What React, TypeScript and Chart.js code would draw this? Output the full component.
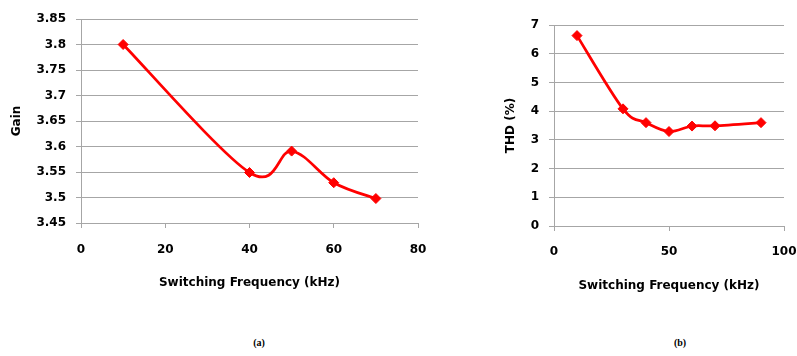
import React, { useEffect, useRef } from "react";
import { Chart, registerables } from "chart.js";

Chart.register(...registerables);

// ---- data (a) Gain ----
const gainFreq = [10, 40, 50, 60, 70];
const gainValues = [3.8, 3.549, 3.591, 3.529, 3.498];
const gainXTicks = [0, 20, 40, 60, 80];
const gainYTicks = [3.45, 3.5, 3.55, 3.6, 3.65, 3.7, 3.75, 3.8, 3.85];

// ---- data (b) THD ----
const thdFreq = [10, 30, 40, 50, 60, 70, 90];
const thdValues = [6.63, 4.08, 3.6, 3.29, 3.48, 3.49, 3.6];
const thdXTicks = [0, 50, 100];
const thdYTicks = [0, 1, 2, 3, 4, 5, 6, 7];

const xTitleText = "Switching Frequency (kHz)";
const FONT = "'DejaVu Sans', sans-serif";
const AXIS_GREY = "#a6a6a6";
const RED = "#ff0000";

// Draws the dataset as an Excel-style smoothed line (Catmull-Rom bezier),
// positioned through the chart's own scales.
const smoothLinePlugin = {
  id: "excelSmooth",
  beforeDatasetsDraw(chart: any) {
    const ctx = chart.ctx;
    const xs = chart.scales.x;
    const ys = chart.scales.y;
    chart.data.datasets.forEach((ds: any) => {
      const pts = ds.data.map((d: any) => ({ x: xs.getPixelForValue(d.x), y: ys.getPixelForValue(d.y) }));
      if (pts.length < 2) return;
      ctx.save();
      ctx.strokeStyle = ds.borderColor;
      ctx.lineWidth = ds.borderWidth;
      ctx.lineJoin = "round";
      ctx.lineCap = "round";
      ctx.beginPath();
      ctx.moveTo(pts[0].x, pts[0].y);
      for (let i = 0; i < pts.length - 1; i++) {
        const p0 = pts[i - 1] || pts[i];
        const p1 = pts[i];
        const p2 = pts[i + 1];
        const p3 = pts[i + 2] || pts[i + 1];
        const c1x = p1.x + (p2.x - p0.x) / 6;
        const c1y = p1.y + (p2.y - p0.y) / 6;
        const c2x = p2.x - (p3.x - p1.x) / 6;
        const c2y = p2.y - (p3.y - p1.y) / 6;
        ctx.bezierCurveTo(c1x, c1y, c2x, c2y, p2.x, p2.y);
      }
      ctx.stroke();
      ctx.restore();
    });
  },
};

type Props = {
  xs: number[];
  ys: number[];
  xTicks: number[];
  yTicks: number[];
  yTitle: string;
  left: number;
  width: number;
  height: number;
  yAxisWidth: number;
  xAxisHeight: number;
  padTop: number;
  padRight: number;
  yTitlePad: number;
  xTitlePad: number;
  xLabelPad: number;
  yLabelPad: number;
};

function LineChart(p: Props) {
  const ref = useRef<HTMLCanvasElement | null>(null);
  useEffect(() => {
    if (!ref.current) return;
    const data = p.xs.map((x, i) => ({ x, y: p.ys[i] }));
    const font = { family: FONT, size: 12, weight: "bold" as const };
    const chart = new Chart(ref.current, {
      type: "line",
      data: {
        datasets: [
          {
            data,
            showLine: false,
            borderColor: RED,
            backgroundColor: RED,
            borderWidth: 2.75,
            pointStyle: "rectRot",
            pointRadius: 5,
            pointBorderWidth: 1,
            pointBorderColor: RED,
            pointBackgroundColor: RED,
          },
        ],
      },
      plugins: [smoothLinePlugin],
      options: {
        animation: false,
        responsive: false,
        devicePixelRatio: 1,
        layout: { padding: { top: p.padTop, right: p.padRight, left: 0, bottom: 0 } },
        plugins: { legend: { display: false }, tooltip: { enabled: false } },
        scales: {
          x: {
            type: "linear",
            min: p.xTicks[0],
            max: p.xTicks[p.xTicks.length - 1],
            afterBuildTicks: (s: any) => {
              s.ticks = p.xTicks.map((v) => ({ value: v }));
            },
            afterFit: (s: any) => {
              s.height = p.xAxisHeight;
              s.paddingLeft = 0;
              s.paddingRight = 0;
            },
            grid: { drawOnChartArea: false, drawTicks: true, tickLength: 5, color: AXIS_GREY },
            border: { display: true, color: AXIS_GREY, width: 1 },
            ticks: {
              padding: p.xLabelPad,
              color: "#000",
              font,
              maxRotation: 0,
              callback: (v: any) => String(v),
            },
            title: {
              display: true,
              text: xTitleText,
              color: "#000",
              font,
              padding: { top: 0, bottom: p.xTitlePad },
            },
          },
          y: {
            type: "linear",
            min: p.yTicks[0],
            max: p.yTicks[p.yTicks.length - 1],
            afterBuildTicks: (s: any) => {
              s.ticks = p.yTicks.map((v) => ({ value: v }));
            },
            afterFit: (s: any) => {
              s.width = p.yAxisWidth;
            },
            grid: { drawOnChartArea: true, drawTicks: true, tickLength: 5, color: AXIS_GREY },
            border: { display: true, color: AXIS_GREY, width: 1 },
            ticks: {
              padding: p.yLabelPad,
              color: "#000",
              font,
              callback: (v: any) => String(Math.round(Number(v) * 100) / 100),
            },
            title: {
              display: true,
              text: p.yTitle,
              color: "#000",
              font,
              padding: { top: p.yTitlePad, bottom: 0 },
            },
          },
        },
      },
    });
    return () => chart.destroy();
  }, []);
  return (
    <canvas
      ref={ref}
      width={p.width}
      height={p.height}
      style={{ position: "absolute", left: p.left, top: 0, width: p.width, height: p.height }}
    />
  );
}

const captionStyle: React.CSSProperties = {
  position: "absolute",
  top: 337,
  width: 40,
  lineHeight: "12px",
  textAlign: "center",
  fontFamily: "'Liberation Serif', serif",
  fontWeight: "bold",
  fontSize: 10,
  color: "#000",
};

export default function App() {
  return (
    <div
      style={{
        position: "absolute",
        left: 0,
        top: 0,
        width: 797,
        height: 356,
        background: "#fff",
        overflow: "hidden",
      }}
    >
      <LineChart
        xs={gainFreq}
        ys={gainValues}
        xTicks={gainXTicks}
        yTicks={gainYTicks}
        yTitle="Gain"
        left={0}
        width={430}
        height={300}
        yAxisWidth={81}
        xAxisHeight={77}
        padTop={19}
        padRight={12}
        yTitlePad={10}
        xTitlePad={10}
        xLabelPad={15}
        yLabelPad={10}
      />
      <LineChart
        xs={thdFreq}
        ys={thdValues}
        xTicks={thdXTicks}
        yTicks={thdYTicks}
        yTitle="THD (%)"
        left={500}
        width={297}
        height={300}
        yAxisWidth={54}
        xAxisHeight={74}
        padTop={25}
        padRight={13}
        yTitlePad={4}
        xTitlePad={7}
        xLabelPad={14}
        yLabelPad={10}
      />
      <div style={{ ...captionStyle, left: 239 }}>(a)</div>
      <div style={{ ...captionStyle, left: 660 }}>(b)</div>
    </div>
  );
}
